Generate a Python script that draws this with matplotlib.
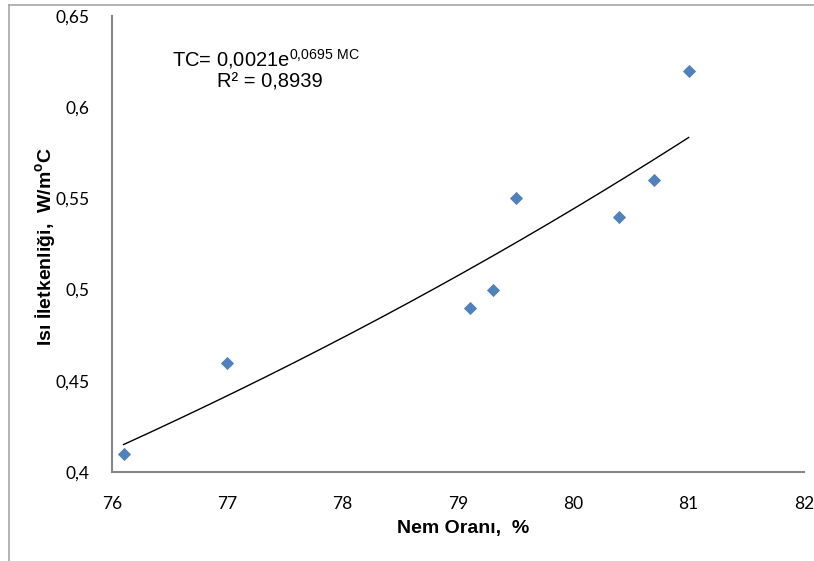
import numpy as np
import matplotlib
matplotlib.use("Agg")
import matplotlib.pyplot as plt
from matplotlib.ticker import FuncFormatter, MultipleLocator
from matplotlib.lines import Line2D

# Data
moisture = [76.1, 77.0, 79.1, 79.3, 79.5, 80.4, 80.7, 81.0]
conductivity = [0.41, 0.46, 0.49, 0.50, 0.55, 0.54, 0.56, 0.62]
eq_text = r"TC= 0,0021e$^{0{,}0695\ \mathrm{MC}}$"
r2_text = "R² = 0,8939"
xlabel = "Nem Oranı,  %"
ylabel = r"Isı İletkenliği,  W/m$^{\mathbf{o}}$C"

plt.rcParams['font.family'] = ['Liberation Sans', 'DejaVu Sans']
plt.rcParams['mathtext.fontset'] = 'custom'
plt.rcParams['mathtext.rm'] = 'Liberation Sans'
plt.rcParams['mathtext.bf'] = 'Liberation Sans:bold'

fig = plt.figure(figsize=(8.14, 5.61), dpi=100)
ax = fig.add_axes([112/814, 1-472/561, (804-112)/814, (472-16)/561])

ax.scatter(moisture, conductivity, marker='D', s=45, color='#4F81BD', zorder=3, linewidths=0)
# exponential trendline (least squares on log values, as Excel does)
b, lna = np.polyfit(moisture, np.log(conductivity), 1)
xs = np.linspace(min(moisture), max(moisture), 200)
ax.plot(xs, np.exp(lna)*np.exp(b*xs), color='black', lw=1.0, zorder=2)

ax.set_xlim(76, 82)
ax.set_ylim(0.4, 0.65)
ax.xaxis.set_major_locator(MultipleLocator(1))
ax.yaxis.set_major_locator(MultipleLocator(0.05))
fmt = FuncFormatter(lambda v, p: f"{v:.2f}".rstrip('0').rstrip('.').replace('.', ','))
ax.xaxis.set_major_formatter(FuncFormatter(lambda v, p: f"{v:g}"))
ax.yaxis.set_major_formatter(fmt)
for lab in ax.get_xticklabels() + ax.get_yticklabels():
    lab.set_family(['Lato', 'DejaVu Sans'])
ax.tick_params(length=0, labelsize=12.5, pad=16, colors='black')
ax.tick_params(axis='x', pad=17)
for s in ['top', 'right']:
    ax.spines[s].set_visible(False)
for s in ['left', 'bottom']:
    ax.spines[s].set_color('#868686')
    ax.spines[s].set_linewidth(1.5)

fig.text(463/814, 1-528/561, xlabel, ha='center', va='center', fontsize=14, fontweight='bold')
fig.text(45/814, 1-246/561, ylabel, ha='center', va='center', fontsize=14, fontweight='bold', rotation=90)

fig.text(172/814, 1-59/561, eq_text, ha='left', va='center', fontsize=14.5)
fig.text(270/814, 1-82/561, r2_text, ha='center', va='center', fontsize=14.5)

# outer chart border
fig.add_artist(Line2D([9/814, 9/814], [0, 1-5/561], transform=fig.transFigure, color='#A6A6A6', lw=1.2))
fig.add_artist(Line2D([9/814, 1], [1-5/561, 1-5/561], transform=fig.transFigure, color='#A6A6A6', lw=1.2))

fig.savefig("out.png", dpi=100)
